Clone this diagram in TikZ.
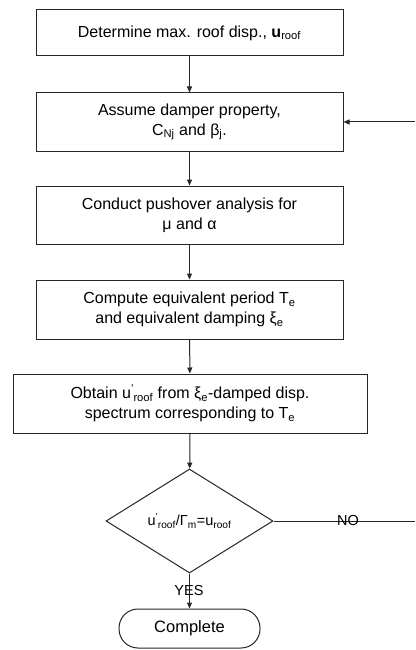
\documentclass[tikz,border=0pt]{standalone}
\usepackage{fontspec}
\setmainfont{Liberation Sans}
\usetikzlibrary{shapes.geometric,arrows.meta}

% u with a prime, then a subscript
\newcommand\uprime[1]{u\textsuperscript{'}\kern-0.5pt\textsubscript{#1}}

\tikzset{
  flow/.style={draw=black!85, line width=1pt},
  stepbox/.style={flow, rectangle, align=center, inner sep=0pt,
    font=\fontsize{16}{20}\selectfont},
  decision/.style={flow, diamond, inner sep=0pt, minimum width=167pt,
    minimum height=104pt, font=\fontsize{14.5}{17}\selectfont},
  terminal/.style={flow, rectangle, rounded corners=19pt, inner sep=0pt,
    minimum width=141pt, minimum height=39pt, font=\fontsize{16.5}{20}\selectfont},
  arr/.style={flow, -{Triangle[length=6pt,width=5pt]}},
  lbl/.style={inner sep=0pt, font=\fontsize{14.5}{17}\selectfont}
}

\begin{document}
\begin{tikzpicture}[x=1pt,y=-1pt]
  \useasboundingbox (0,0) rectangle (415,650);
  \fill[white] (0,0) rectangle (415,650);

  \node[stepbox, minimum width=307pt, minimum height=46pt] (s1) at (189.5,33)
    {Determine max. roof disp., \textbf{u}\textsubscript{roof}};
  \node[stepbox, minimum width=307pt, minimum height=58pt] (s2) at (189.5,122)
    {Assume damper property,\\ C\textsubscript{Nj} and β\textsubscript{j}.};
  \node[stepbox, minimum width=307pt, minimum height=58pt] (s3) at (189.5,215)
    {Conduct pushover analysis for\\ μ and α};
  \node[stepbox, minimum width=307pt, minimum height=59pt] (s4) at (189.5,309.5)
    {Compute equivalent period T\textsubscript{e}\\ and equivalent damping ξ\textsubscript{e}};
  \node[stepbox, minimum width=354pt, minimum height=59pt] (s5) at (190,403.5)
    {Obtain \uprime{roof} from ξ\textsubscript{e}-damped disp.\\ spectrum corresponding to T\textsubscript{e}};
  \node[decision] (chk) at (189.5,521)
    {\uprime{roof}/Γ\textsubscript{m}=u\textsubscript{roof}};
  \node[terminal] (done) at (189.5,628.5) {Complete};

  \coordinate (noEnd) at (415,521);
  \coordinate (backIn) at (415,122);

  \draw[arr] (s1) -- (s2);
  \draw[arr] (s2) -- (s3);
  \draw[arr] (s3) -- (s4);
  \draw[arr] (s4) -- (s5);
  \draw[arr] (s5) -- (chk);
  \draw[arr] (chk) -- (done);
  \draw[flow] (chk.east) -- (noEnd);
  \draw[arr] (backIn) -- (s2.east);

  \node[lbl] (yes) at (189,591) {YES};
  \node[lbl] (no) at (348,521) {NO};
\end{tikzpicture}
\end{document}
